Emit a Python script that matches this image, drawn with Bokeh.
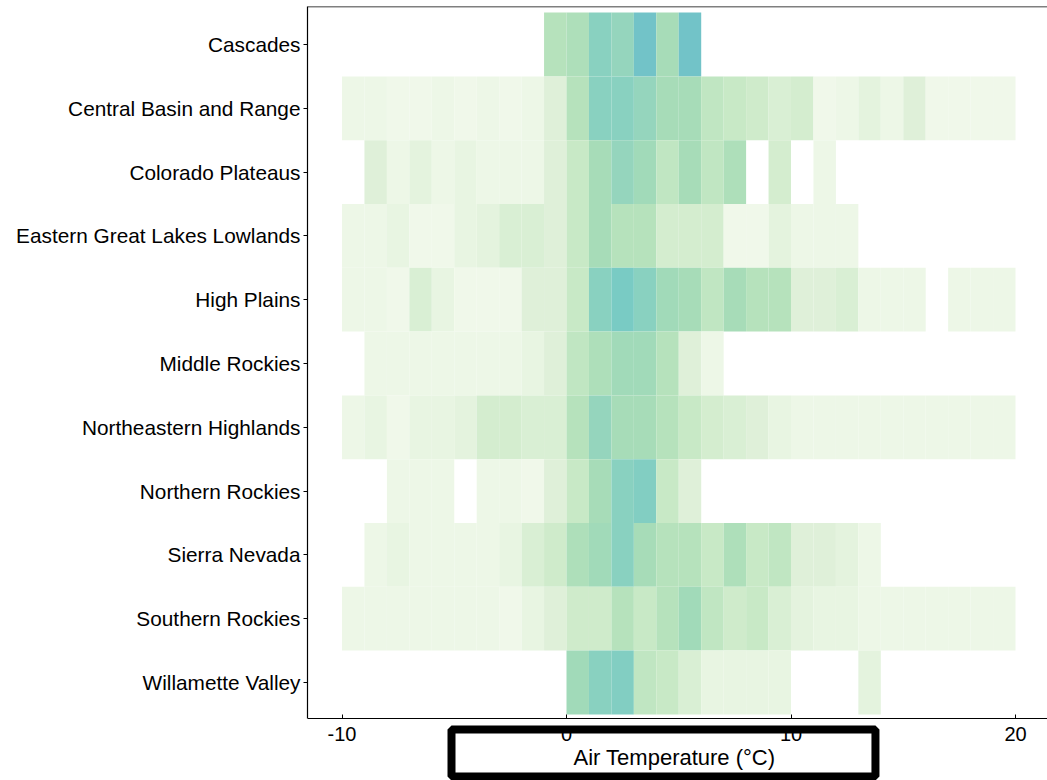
from bokeh.plotting import figure
from bokeh.models import ColumnDataSource, LinearColorMapper, FixedTicker, Range1d, Label, Span
from bokeh.transform import transform
from bokeh.embed import file_html
from bokeh.resources import INLINE

regions = ["Cascades", "Central Basin and Range", "Colorado Plateaus",
           "Eastern Great Lakes Lowlands", "High Plains", "Middle Rockies",
           "Northeastern Highlands", "Northern Rockies", "Sierra Nevada",
           "Southern Rockies", "Willamette Valley"]
bin_starts = list(range(-10, 20))  # 1 degree C bins, -10 .. 20
N = None
# relative density level per bin (None = no observations)
cascades      = [N, N, N, N, N, N, N, N, N, 6, 6.5, 8.5, 8, 10, 7, 10, N, N, N, N, N, N, N, N, N, N, N, N, N, N]
central_basin = [1.5, 1.5, 1, 1, 1.5, 1, 1.5, 1, 1.5, 3, 6, 8.5, 8.5, 8, 7, 7, 5.5, 5, 4.5, 3.5, 4, 1, 1.5, 2.5, 1.5, 3, 1, 1, 1, 1]
colorado      = [N, 3, 1.5, 2.5, 1.5, 2, 1.5, 1.5, 1.5, 3, 5, 7, 8, 7.5, 5.5, 7, 5.5, 6.5, N, 4, N, 1.5, N, N, N, N, N, N, N, N]
eastern_gl    = [1.5, 1.5, 2, 1, 1, 2, 2.5, 3.5, 3.5, 3, 5, 7, 6, 6, 4, 4, 4, 1, 1, 2.5, 1.5, 1.5, 1.5, N, N, N, N, N, N, N]
high_plains   = [1.5, 1.5, 1, 3.5, 2, 1, 1, 1, 3, 3, 5, 8.5, 9.5, 8.5, 7.5, 7, 5.5, 7, 6, 6, 3, 3, 3.5, 1.5, 1.5, 1.5, N, 1.5, 1.5, 1.5]
middle_rock   = [N, 1.5, 1.5, 1.5, 1.5, 1.5, 1.5, 1.5, 2, 3, 5.5, 6.5, 7.5, 7.5, 6, 3, 1.5, N, N, N, N, N, N, N, N, N, N, N, N, N]
northeastern  = [1.5, 2, 1, 2, 2, 2.5, 4, 4, 3.5, 3.5, 6, 8, 7, 7, 6, 5, 4, 3.5, 3, 2, 1.5, 1.5, 1.5, 1.5, 1.5, 1.5, 1.5, 1.5, 1.5, 1.5]
northern_rock = [N, N, 1.5, 1.5, 1.5, N, 1.5, 1.5, 1, 3, 5, 7, 8.5, 9, 5, 3, N, N, N, N, N, N, N, N, N, N, N, N, N, N]
sierra        = [N, 1.5, 2, 1.5, 1.5, 1.5, 1.5, 2, 3.5, 4.5, 6.5, 7.5, 8.5, 7, 6, 6, 5, 6.5, 5, 5.5, 3, 3, 2.5, 1.5, N, N, N, N, N, N]
southern_rock = [1.5, 1.5, 1.5, 1.5, 1.5, 1.5, 1.5, 1, 2, 3, 4.5, 4.5, 6, 5, 6, 7.5, 5.5, 4.5, 5, 3.5, 2.5, 2, 2, 1.5, 1.5, 1.5, 1.5, 1.5, 1.5, 1.5]
willamette    = [N, N, N, N, N, N, N, N, N, N, 7.5, 8.5, 9, 5.5, 5, 3.5, 2, 2, 2, 2, N, N, N, 2.5, N, N, N, N, N, N]
series = [cascades, central_basin, colorado, eastern_gl, high_plains, middle_rock,
          northeastern, northern_rock, sierra, southern_rock, willamette]

x_ticks = [-10, 0, 10, 20]
x_tick_labels = ["-10", "0", "10", "20"]
x_title = "Air Temperature (°C)"
palette = ["#f0f8ea", "#edf7e7", "#e8f5e2", "#e4f3de", "#dff0d9", "#d9efd4", "#d4edcf",
           "#cfebcb", "#c8e9c6", "#c0e6c2", "#b6e2bc", "#aedfba", "#a7dcb8", "#a1dab9",
           "#95d5bd", "#89d1c0", "#82cec2", "#79cbc4", "#72c3c8"]

xs, ys, lv = [], [], []
n = len(regions)
for i, vals in enumerate(series):
    for b, v in zip(bin_starts, vals):
        if v is None:
            continue
        xs.append(b + 0.5)
        ys.append(n - 1 - i)
        lv.append(v)
src = ColumnDataSource(dict(x=xs, y=ys, level=lv))
mapper = LinearColorMapper(palette=palette, low=0.75, high=10.25)

FONT = "Liberation Sans"
Y_AX, Y1 = -0.564, 10.596        # axis baseline and top of data area
Y_LOW = Y_AX - 62 / 63.8          # room below the axis for tick labels and title box
p = figure(width=1047, height=780, output_backend="svg", toolbar_location=None,
           x_range=Range1d(-11.537, 21.425), y_range=Range1d(Y_LOW, Y1),
           min_border_left=307, min_border_right=0, min_border_top=6, min_border_bottom=0)
p.rect(x="x", y="y", width=1, height=1, source=src,
       fill_color=transform("level", mapper), line_color=None)

p.outline_line_color = None
p.grid.visible = False
p.add_layout(Span(location=Y1, dimension="width", line_color="black", line_width=1.5))

p.xaxis.fixed_location = Y_AX
p.xaxis.ticker = FixedTicker(ticks=x_ticks)
p.xaxis.major_label_overrides = dict(zip(x_ticks, x_tick_labels))
p.xaxis.major_tick_in = 4
p.xaxis.major_tick_out = 0
p.xaxis.minor_tick_line_color = None
p.xaxis.major_label_text_font = FONT
p.xaxis.major_label_text_font_size = "20px"
p.xaxis.major_label_text_color = "black"
p.xaxis.major_label_standoff = 8
p.xaxis.axis_line_color = "black"
p.xaxis.axis_line_width = 1.2

p.yaxis.bounds = (Y_AX, Y1)
p.yaxis.ticker = FixedTicker(ticks=list(range(n)))
p.yaxis.major_label_overrides = {n - 1 - i: r for i, r in enumerate(regions)}
p.yaxis.major_tick_in = 0
p.yaxis.major_tick_out = 4
p.yaxis.minor_tick_line_color = None
p.yaxis.major_label_text_font = FONT
p.yaxis.major_label_text_font_size = "20.8px"
p.yaxis.major_label_text_color = "black"
p.yaxis.major_label_standoff = 3
p.yaxis.axis_line_color = "black"
p.yaxis.axis_line_width = 1.2

title = Label(x=144, y=51, x_units="screen", y_units="screen", anchor="top_left",
              text=x_title, text_font=FONT, text_font_size="22px",
              text_color="black", border_line_color="black", border_line_width=8,
              background_fill_color=None,
              padding=dict(left=122, right=100, top=15, bottom=7))
p.add_layout(title)

open("out.html", "w").write(file_html(p, INLINE))
